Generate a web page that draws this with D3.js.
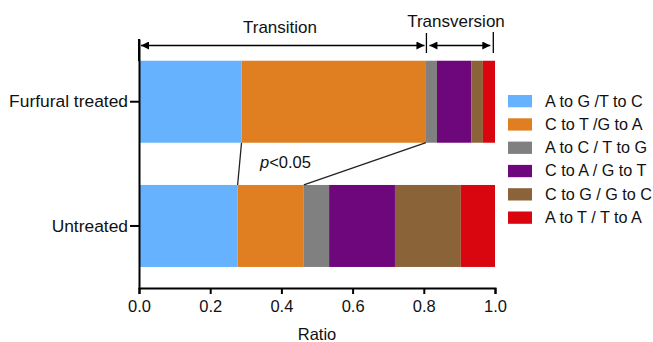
<!DOCTYPE html>
<html><head><meta charset="utf-8">
<script src="https://cdn.jsdelivr.net/npm/d3@7/dist/d3.min.js"></script>
<style>body{margin:0;background:#fff;}svg{display:block;font-family:Arial,"Liberation Sans",sans-serif;}</style>
</head><body><svg id="c" width="653" height="342"></svg>
<script>
const groups = ["Furfural treated", "Untreated"];
const mutationTypes = ["A to G /T to C", "C to T /G to A", "A to C / T to G", "C to A / G to T", "C to G / G to C", "A to T / T to A"];
const furfuralValues = [0.288, 0.518, 0.031, 0.097, 0.032, 0.034];
const untreatedValues = [0.277, 0.186, 0.071, 0.185, 0.185, 0.096];
const colors = ["#66B2FE", "#E07F22", "#808080", "#6E077C", "#8B6339", "#D9060F"];
const xTicks = [0, 0.2, 0.4, 0.6, 0.8, 1.0];

const svg = d3.select("#c");
const x = d3.scaleLinear().domain([0, 1]).range([139, 495]);
const y = d3.scaleBand().domain(groups).range([39, 288.7]).paddingInner(0.34).paddingOuter(0.175);

const valuesByGroup = {"Furfural treated": furfuralValues, "Untreated": untreatedValues};
const stacks = {};
groups.forEach(g => {
  let acc = 0;
  stacks[g] = valuesByGroup[g].map((v, i) => { const s = {g, i, x0: acc, x1: acc + v}; acc += v; return s; });
});

// bars
groups.forEach(g => {
  svg.append("g").selectAll("rect").data(stacks[g]).join("rect")
    .attr("x", d => x(d.x0)).attr("width", d => x(d.x1) - x(d.x0))
    .attr("y", y(g)).attr("height", y.bandwidth())
    .attr("fill", d => colors[d.i]);
});

// connecting lines
const f = stacks["Furfural treated"], u = stacks["Untreated"];
const fb = y("Furfural treated") + y.bandwidth(), ut = y("Untreated");
[[f[0].x1, u[0].x1], [f[1].x1, u[1].x1]].forEach(([a, b]) => {
  svg.append("line").attr("x1", x(a)).attr("y1", fb).attr("x2", x(b)).attr("y2", ut)
    .attr("stroke", "#222").attr("stroke-width", 1.3);
});
svg.append("text").attr("x", 260).attr("y", 168).attr("font-size", 16.5).attr("fill", "#111")
  .html('<tspan font-style="italic">p</tspan>&lt;0.05');

// x axis
const xAxis = svg.append("g").attr("transform", "translate(0,288)")
  .call(d3.axisBottom(x).tickValues(xTicks).tickFormat(d3.format(".1f")).tickSize(6).tickPadding(6));
xAxis.select(".domain").attr("stroke", "#000").attr("stroke-width", 2);
xAxis.selectAll(".tick line").attr("stroke", "#000").attr("stroke-width", 2);
xAxis.selectAll(".tick text").attr("font-size", 16.5).attr("fill", "#111").attr("font-family", "Arial, Liberation Sans, sans-serif");
svg.append("text").attr("x", 317).attr("y", 340).attr("text-anchor", "middle").attr("font-size", 16.5).attr("fill", "#111").text("Ratio");

// y axis
const yAxis = svg.append("g").attr("transform", "translate(139,0)")
  .call(d3.axisLeft(y).tickSize(9).tickPadding(2).tickSizeOuter(0));
yAxis.select(".domain").attr("stroke", "#000").attr("stroke-width", 2);
yAxis.selectAll(".tick line").attr("stroke", "#000").attr("stroke-width", 2);
yAxis.selectAll(".tick text").attr("font-size", 17.4).attr("fill", "#111").attr("font-family", "Arial, Liberation Sans, sans-serif");

// top annotations
const defs = svg.append("defs");
defs.append("marker").attr("id", "ah").attr("viewBox", "0 0 10 10").attr("refX", 10).attr("refY", 5)
  .attr("markerWidth", 9).attr("markerHeight", 8).attr("markerUnits", "userSpaceOnUse").attr("orient", "auto-start-reverse")
  .append("path").attr("d", "M0,0L10,5L0,10Z").attr("fill", "#000");
const ay = 45.5;
const xTrEnd = x(f[1].x1) + 0.5;
const xTvEnd = 493.3;
svg.append("line").attr("x1", x(0)).attr("x2", x(0)).attr("y1", 39).attr("y2", 61).attr("stroke", "#000").attr("stroke-width", 2);
svg.append("line").attr("x1", xTrEnd).attr("x2", xTrEnd).attr("y1", 33).attr("y2", 53).attr("stroke", "#000").attr("stroke-width", 1.3);
svg.append("line").attr("x1", xTvEnd).attr("x2", xTvEnd).attr("y1", 32).attr("y2", 53).attr("stroke", "#000").attr("stroke-width", 1.3);
svg.append("line").attr("x1", x(0) + 2).attr("x2", xTrEnd - 2).attr("y1", ay).attr("y2", ay)
  .attr("stroke", "#000").attr("stroke-width", 1.3).attr("marker-start", "url(#ah)").attr("marker-end", "url(#ah)");
svg.append("line").attr("x1", xTrEnd + 3).attr("x2", xTvEnd - 3).attr("y1", ay).attr("y2", ay)
  .attr("stroke", "#000").attr("stroke-width", 1.3).attr("marker-start", "url(#ah)").attr("marker-end", "url(#ah)");
svg.append("text").attr("x", 280).attr("y", 33).attr("text-anchor", "middle").attr("font-size", 17).attr("fill", "#111").text("Transition");
svg.append("text").attr("x", 456).attr("y", 27).attr("text-anchor", "middle").attr("font-size", 17).attr("fill", "#111").text("Transversion");

// legend
const lg = svg.append("g").selectAll("g").data(mutationTypes).join("g")
  .attr("transform", (d, i) => `translate(508,${95 + i * 23.3})`);
lg.append("rect").attr("width", 24).attr("height", 12.3).attr("fill", (d, i) => colors[i]);
lg.append("text").attr("x", 37).attr("y", 11.5).attr("font-size", 16.2).attr("fill", "#111").text(d => d);
</script></body></html>
